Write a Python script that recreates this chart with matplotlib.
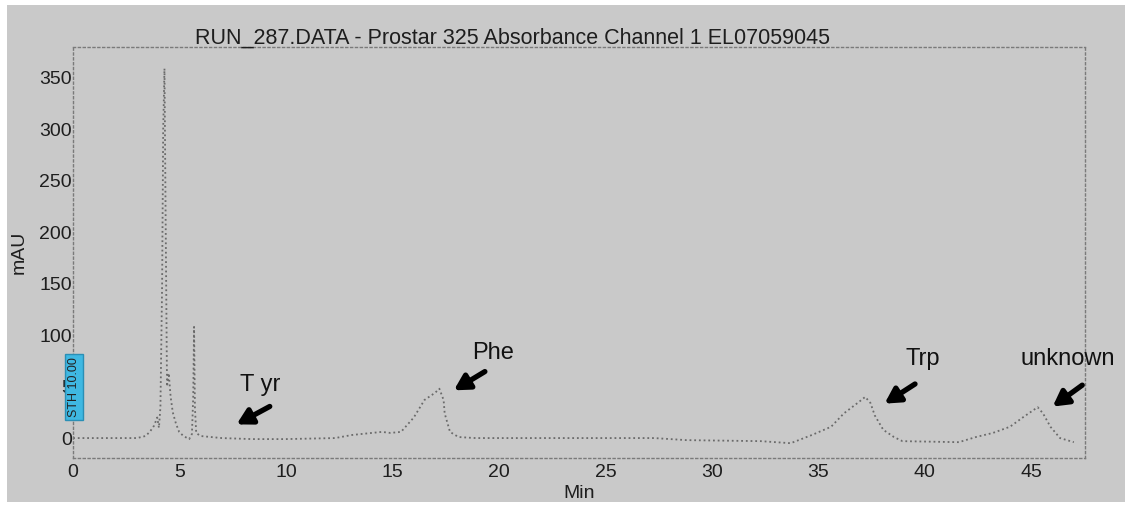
import matplotlib.pyplot as plt

plt.rcParams['font.family'] = ['Liberation Sans', 'DejaVu Sans']

# chromatogram trace (time in min, signal in mAU)
time = [0.0, 1.0, 2.0, 3.0, 3.4, 3.6, 3.8, 3.95, 4.03, 4.1, 4.18, 4.23, 4.29, 4.35,
        4.41, 4.49, 4.58, 4.68, 4.83, 4.98, 5.18, 5.45, 5.58, 5.64, 5.68, 5.72, 5.78, 5.98,
        6.48, 6.98, 8.4, 9.95, 12.3, 13.1, 14.5, 14.9, 15.4, 16.0, 16.5, 17.0, 17.2,
        17.4, 17.45, 17.7, 18.1, 18.9, 21.9, 24.85, 27.3, 28.8, 32.3, 33.7, 34.7,
        35.6, 36.2, 36.9, 37.2, 37.45, 37.65, 38.05, 38.55, 38.95, 41.6, 42.4, 43.2,
        44.0, 44.6, 45.3, 45.55, 45.9, 46.35, 47.0]
mau = [0, 0, 0, 0, 2, 6, 12, 20, 10, 30, 150, 300, 359, 200,
       50, 63, 40, 25, 14, 6, 2, -1, 4, 40, 108, 30, 5, 2,
       1, 0, -1, -1, 0, 3, 6, 5, 6, 20, 37, 44, 48,
       37, 24, 6, 1, 0, 0, 0, 0, -2, -3, -5, 3,
       11, 24, 35, 40, 34, 22, 8, 1, -3, -4, 1, 5,
       11, 20, 30, 24, 11, 0, -4]

x_ticks = [0, 5, 10, 15, 20, 25, 30, 35, 40, 45]
y_ticks = [0, 50, 100, 150, 200, 250, 300, 350]
y_tick_labels = ["0", "5", "100", "150", "200", "250", "300", "350"]

# peak labels: text position, arrow tail, arrow head
peak_names = ["T yr", "Phe", "Trp", "unknown"]
label_xy = [(8.8, 52), (19.7, 83), (39.9, 77), (46.7, 77)]
arrow_tail = [(9.35, 32), (19.45, 66), (39.65, 54), (47.5, 53)]
arrow_head = [(7.56, 12), (17.77, 45), (38.0, 32), (45.9, 29)]

bg = "#c9c9c9"
fig = plt.figure(figsize=(11.25, 5.05), dpi=100, facecolor="white")
fig.patches.append(plt.Rectangle((0.006, 0.006), 0.994, 0.984, transform=fig.transFigure,
                                 facecolor=bg, edgecolor="none", zorder=-10))
ax = fig.add_axes([0.065, 0.093, 0.899, 0.814])
ax.set_facecolor(bg)

ax.plot(time, mau, color="#6a6a6a", linestyle=(0, (1, 1.6)), linewidth=1.3)

ax.set_xlim(0.12, 47.5)
ax.set_ylim(-19.4, 380)
ax.set_xticks(x_ticks)
ax.set_yticks(y_ticks)
ax.set_yticklabels(y_tick_labels)
ax.tick_params(length=0, labelsize=14, colors="#1e1e1e")
ax.tick_params(axis="x", pad=4)
ax.tick_params(axis="y", pad=1)
for spine in ax.spines.values():
    spine.set_color("#7a7a7a")
    spine.set_linestyle((0, (1.5, 2)))
    spine.set_linewidth(1.0)

ax.set_xlabel("Min", fontsize=14, labelpad=3, color="#1e1e1e")
ax.set_ylabel("mAU", fontsize=14, labelpad=8, color="#1e1e1e")

fig.text(0.173, 0.925, "RUN_287.DATA - Prostar 325 Absorbance Channel 1 EL07059045",
         fontsize=15.5, color="#1e1e1e", ha="left", va="center")

for name, txy, tail, head in zip(peak_names, label_xy, arrow_tail, arrow_head):
    ax.text(txy[0], txy[1], name, fontsize=17, ha="center", va="center",
            color="#111111", clip_on=False)
    ax.annotate("", xy=head, xytext=tail,
                arrowprops=dict(arrowstyle="-|>,head_length=0.9,head_width=0.5",
                                color="black", lw=3.8), annotation_clip=False)

ax.text(0.05, 50, "STH 10.00", rotation=90, fontsize=9, ha="center", va="center",
        color="#222222", clip_on=False,
        bbox=dict(boxstyle="square,pad=0.25", facecolor="#3fb8e2", edgecolor="#2a8fb5"))

fig.savefig("out.png", dpi=100, facecolor="white")
